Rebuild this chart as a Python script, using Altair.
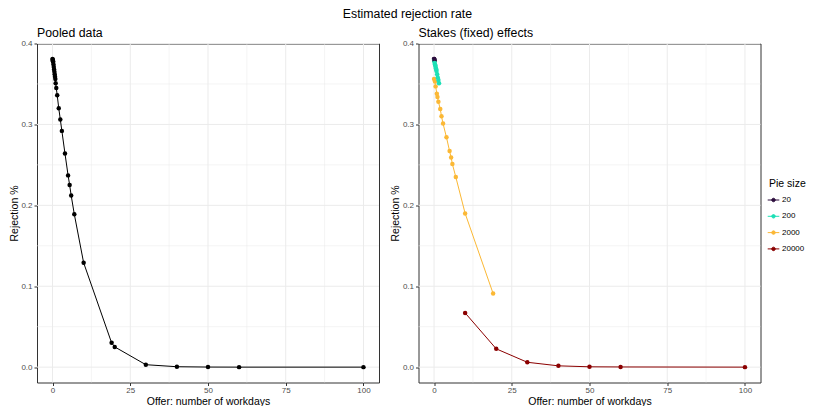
import altair as alt
import pandas as pd

# ---------------- data ----------------
pooled_x = [0, 0.05, 0.1, 0.15, 0.2, 0.3, 0.4, 0.5, 0.6, 0.7, 0.8, 0.9, 1.0, 1.2, 1.5,
            2, 2.5, 3, 4, 5, 5.5, 6, 7, 10, 19, 20, 30, 40, 50, 60, 100]
pooled_y = [0.381, 0.380, 0.379, 0.378, 0.377, 0.374, 0.371, 0.368, 0.365, 0.362, 0.359,
            0.356, 0.351, 0.345, 0.336, 0.320, 0.306, 0.292, 0.264, 0.237, 0.225, 0.212,
            0.189, 0.129, 0.030, 0.025, 0.003, 0.0005, 0.0001, 0.0, 0.0]

pie20_x = [0, 0.05, 0.1, 0.2]
pie20_y = [0.381, 0.381, 0.380, 0.379]
pie200_x = [0, 0.1, 0.2, 0.3, 0.4, 0.5, 0.6, 0.7, 0.8, 1.0, 1.2, 1.4, 1.6]
pie200_y = [0.380, 0.378, 0.376, 0.374, 0.373, 0.371, 0.369, 0.368, 0.366, 0.362,
            0.358, 0.355, 0.351]
pie2000_x = [0, 0.3, 0.5, 0.9, 1.1, 1.4, 2.0, 2.4, 2.9, 4.0, 5.0, 5.5, 5.9, 7.0, 10, 19]
pie2000_y = [0.356, 0.353, 0.347, 0.338, 0.334, 0.328, 0.319, 0.310, 0.301, 0.284,
             0.267, 0.259, 0.251, 0.235, 0.190, 0.091]
pie20000_x = [10, 20, 30, 40, 50, 60, 100]
pie20000_y = [0.067, 0.0226, 0.006, 0.0016, 0.0004, 0.0002, 0.0]

pie_sizes = ["20", "200", "2000", "20000"]
pie_colors = ["#2d0d3d", "#1de0b6", "#fbb835", "#8b0000"]

x_major = [0, 25, 50, 75, 100]
x_minor = [12.5, 37.5, 62.5, 87.5]
y_major = [0.0, 0.1, 0.2, 0.3, 0.4]
y_minor = [0.05, 0.15, 0.25, 0.35]

# ---------------- tables ----------------
pooled = pd.DataFrame({"x": pooled_x, "y": pooled_y})
rows = []
for size, xs, ys in zip(pie_sizes, [pie20_x, pie200_x, pie2000_x, pie20000_x],
                        [pie20_y, pie200_y, pie2000_y, pie20000_y]):
    for a, b in zip(xs, ys):
        rows.append({"x": a, "y": b, "pie": size})
stakes = pd.DataFrame(rows)

FONT = "Liberation Sans"
W, H = 342, 339
xscale = alt.Scale(domain=[-5, 105], nice=False, zero=False)
yscale = alt.Scale(domain=[-0.019, 0.4], nice=False, zero=False)

xaxis = alt.Axis(values=x_major, format="d", grid=False, domain=False, labelFontSize=8,
                 labelColor="#4d4d4d", tickColor="#333333", tickSize=3, labelPadding=1,
                 title="Offer: number of workdays", titleFontSize=10.5, titleFontWeight="normal",
                 titleColor="black", titlePadding=1.5, labelFont=FONT, titleFont=FONT)
yaxis = alt.Axis(values=y_major, format=".1f", grid=False, domain=False, labelFontSize=8,
                 labelColor="#4d4d4d", tickColor="#333333", tickSize=3, labelPadding=2,
                 title="Rejection %", titleFontSize=10.5, titleFontWeight="normal",
                 titleColor="black", titlePadding=1.5, labelFont=FONT, titleFont=FONT)


def grid_layers():
    xmaj = alt.Chart(pd.DataFrame({"x": x_major})).mark_rule(color="#ebebeb", strokeWidth=1).encode(
        x=alt.X("x:Q", scale=xscale, axis=xaxis))
    xmin = alt.Chart(pd.DataFrame({"x": x_minor})).mark_rule(color="#ebebeb", strokeWidth=0.5).encode(
        x=alt.X("x:Q", scale=xscale, axis=xaxis))
    ymaj = alt.Chart(pd.DataFrame({"y": y_major})).mark_rule(color="#ebebeb", strokeWidth=1).encode(
        y=alt.Y("y:Q", scale=yscale, axis=yaxis))
    ymin = alt.Chart(pd.DataFrame({"y": y_minor})).mark_rule(color="#ebebeb", strokeWidth=0.5).encode(
        y=alt.Y("y:Q", scale=yscale, axis=yaxis))
    return [xmin, ymin, xmaj, ymaj]


def ptitle(t):
    return alt.TitleParams(t, anchor="start", frame="group", fontSize=12.3, fontWeight="normal",
                           font=FONT, color="black", offset=0)


base_l = alt.Chart(pooled).encode(x=alt.X("x:Q", scale=xscale, axis=xaxis),
                                   y=alt.Y("y:Q", scale=yscale, axis=yaxis))
left = alt.layer(*grid_layers(),
                 base_l.mark_line(color="black", strokeWidth=1),
                 base_l.mark_circle(color="black", size=20, opacity=1)
                 ).properties(width=W, height=H, title=ptitle("Pooled data"))

color = alt.Color("pie:N", scale=alt.Scale(domain=pie_sizes, range=pie_colors),
                  legend=alt.Legend(title="Pie size", titleFontSize=10.5, titleFontWeight="normal",
                                    titleFont=FONT, labelFont=FONT, labelFontSize=8,
                                    labelColor="black", orient="none", legendX=732, legendY=135,
                                    symbolType="M-1.5,0L1.5,0M-0.45,0A0.45,0.45,0,1,1,0.45,0A0.45,0.45,0,1,1,-0.45,0Z",
                                    symbolSize=60, symbolStrokeWidth=1, rowPadding=7.3,
                                    titlePadding=6.5))
base_r = alt.Chart(stakes).encode(x=alt.X("x:Q", scale=xscale, axis=xaxis),
                                   y=alt.Y("y:Q", scale=yscale, axis=yaxis),
                                   color=color, order=alt.Order("x:Q"))
right = alt.layer(*grid_layers(),
                  base_r.mark_line(strokeWidth=1),
                  base_r.mark_circle(size=20, opacity=1)
                  ).properties(width=W, height=H, title=ptitle("Stakes (fixed) effects"))

chart = alt.hconcat(left, right, spacing=9.5).properties(
    title=alt.TitleParams("Estimated rejection rate", anchor="middle", fontSize=12.3,
                          fontWeight="normal", font=FONT, color="black", offset=6),
    padding={"left": 8, "top": 7.5, "right": 0, "bottom": 0},
).configure_view(stroke="#333333", strokeWidth=1)

chart.save("out.html", embed_options={"renderer": "svg", "actions": False})
